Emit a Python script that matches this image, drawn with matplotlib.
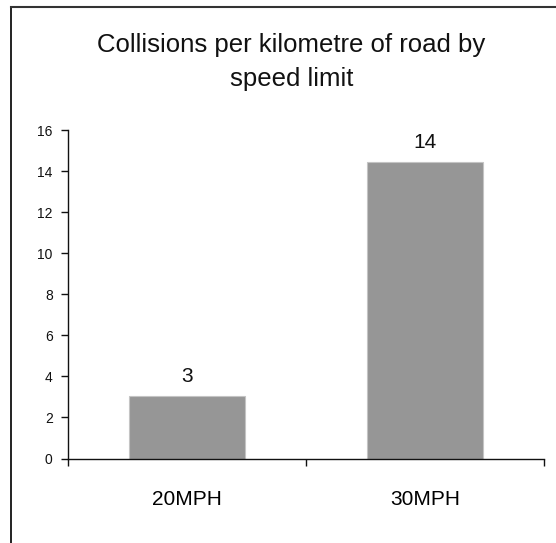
import matplotlib
matplotlib.use("Agg")
import matplotlib.pyplot as plt
from matplotlib.lines import Line2D

categories = ["20MPH", "30MPH"]
values = [3.04, 14.44]
value_labels = ["3", "14"]
title_lines = ["Collisions per kilometre of road by", "speed limit"]
y_ticks = [0, 2, 4, 6, 8, 10, 12, 14, 16]

plt.rcParams['font.family'] = ['Liberation Sans', 'DejaVu Sans']

W, H = 556, 543
fig = plt.figure(figsize=(W / 100, H / 100), dpi=100)
fig.patch.set_facecolor('white')

# frame (left and top edges visible)
fig.add_artist(Line2D([10.5 / W, 10.5 / W], [0, 1 - 6.5 / H], transform=fig.transFigure,
                      color='#111111', lw=1.3))
fig.add_artist(Line2D([10.5 / W, 1], [1 - 6.5 / H, 1 - 6.5 / H], transform=fig.transFigure,
                      color='#333333', lw=1.5))

ax = fig.add_axes([68 / W, 1 - 458.5 / H, (544 - 68) / W, (458.5 - 130) / H])
x = list(range(len(categories)))
bars = ax.bar(x, values, width=0.49, color='#969696', edgecolor='#c4c4c4', linewidth=0.8, zorder=2)

ax.set_xlim(-0.5, len(categories) - 0.5)
ax.set_ylim(0, 16)
ax.set_yticks(y_ticks)
ax.set_yticklabels([str(t) for t in y_ticks], fontsize=10)
ax.tick_params(axis='y', direction='out', length=5, width=1, pad=6, colors='#111111')

ax.set_xticks(x)
ax.set_xticklabels(categories, fontsize=15)
ax.tick_params(axis='x', which='major', length=0, pad=23)
ax.set_xticks([i - 0.5 for i in range(len(categories) + 1)], minor=True)
ax.tick_params(axis='x', which='minor', direction='out', length=5, width=1, colors='#111111')

for s in ['top', 'right']:
    ax.spines[s].set_visible(False)
for s in ['left', 'bottom']:
    ax.spines[s].set_color('#111111')
    ax.spines[s].set_linewidth(1)
    ax.spines[s].set_zorder(3)

for b, lab in zip(bars, value_labels):
    ax.annotate(lab, (b.get_x() + b.get_width() / 2, b.get_height()),
                xytext=(0, 10), textcoords='offset points',
                ha='center', va='baseline', fontsize=15, color='#111111')

cx = 291.5 / W
fig.text(cx, 1 - 52 / H, title_lines[0], ha='center', va='baseline', fontsize=18.5, color='#111111')
fig.text(cx, 1 - 86 / H, title_lines[1], ha='center', va='baseline', fontsize=18.5, color='#111111')

fig.savefig("out.png", dpi=100, facecolor='white')
